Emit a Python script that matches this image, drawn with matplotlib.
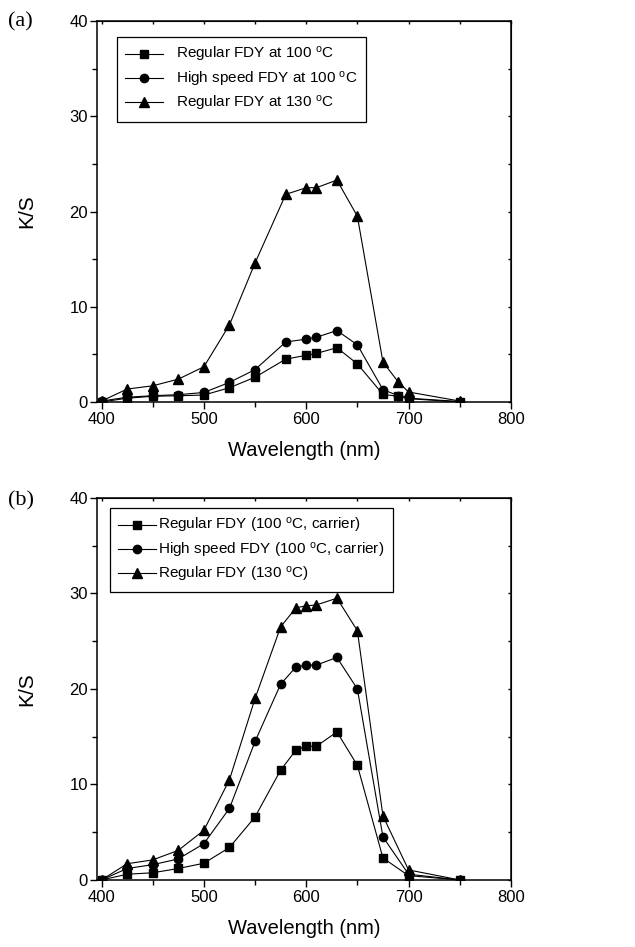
import matplotlib
matplotlib.use("Agg")
import matplotlib.pyplot as plt
from matplotlib.ticker import MultipleLocator

plt.rcParams['font.family'] = ['Liberation Sans', 'DejaVu Sans']
plt.rcParams['mathtext.fontset'] = 'custom'
plt.rcParams['mathtext.rm'] = 'Liberation Sans'
plt.rcParams['mathtext.it'] = 'Liberation Sans'

# ---- data ----
wl_a = [400, 425, 450, 475, 500, 525, 550, 580, 600, 610, 630, 650, 675, 690, 700, 750]
a_regular_100 = [0.0, 0.4, 0.6, 0.66, 0.73, 1.5, 2.6, 4.5, 4.9, 5.1, 5.7, 4.0, 0.8, 0.6, 0.35, 0.0]
a_highspeed_100 = [0.1, 0.5, 0.66, 0.77, 1.0, 2.06, 3.4, 6.3, 6.6, 6.8, 7.5, 6.0, 1.3, 0.66, 0.4, 0.05]
a_regular_130 = [0.1, 1.36, 1.7, 2.4, 3.7, 8.1, 14.6, 21.8, 22.5, 22.5, 23.3, 19.5, 4.2, 2.1, 1.05, 0.1]

wl_b = [400, 425, 450, 475, 500, 525, 550, 575, 590, 600, 610, 630, 650, 675, 700, 750]
b_regular_carrier = [0.0, 0.6, 0.75, 1.2, 1.75, 3.4, 6.6, 11.5, 13.6, 14.0, 14.0, 15.5, 12.0, 2.3, 0.45, 0.0]
b_highspeed_carrier = [0.0, 1.2, 1.6, 2.2, 3.8, 7.5, 14.5, 20.5, 22.3, 22.5, 22.5, 23.3, 20.0, 4.5, 0.6, 0.0]
b_regular_130 = [0.0, 1.7, 2.1, 3.1, 5.2, 10.5, 19.0, 26.5, 28.5, 28.7, 28.8, 29.5, 26.1, 6.7, 1.05, 0.0]

labels_a = [r"Regular FDY at 100 $^{\mathrm{o}}$C",
            r"High speed FDY at 100 $^{\mathrm{o}}$C",
            r"Regular FDY at 130 $^{\mathrm{o}}$C"]
labels_b = [r"Regular FDY (100 $^{\mathrm{o}}$C, carrier)",
            r"High speed FDY (100 $^{\mathrm{o}}$C, carrier)",
            r"Regular FDY (130 $^{\mathrm{o}}$C)"]

markers = ['s', 'o', '^']
msizes = [5.5, 6.0, 6.5]

fig = plt.figure(figsize=(6.35, 9.47), dpi=100)

def make_panel(rect, wl, series, labels, leg_anchor, panel_label, handlepad, label_dy):
    ax = fig.add_axes(rect)
    for y, lab, m, ms in zip(series, labels, markers, msizes):
        ax.plot(wl, y, color='black', lw=0.8, marker=m, ms=ms, label=lab)
    ax.set_xlim(396, 800)
    ax.set_ylim(0, 40)
    ax.xaxis.set_major_locator(MultipleLocator(100))
    ax.xaxis.set_minor_locator(MultipleLocator(50))
    ax.yaxis.set_major_locator(MultipleLocator(10))
    ax.yaxis.set_minor_locator(MultipleLocator(5))
    ax.tick_params(which='major', direction='out', length=5, width=1, labelsize=12, pad=2)
    ax.tick_params(which='minor', direction='out', length=3.5, width=1)
    for s in ax.spines.values():
        s.set_linewidth(1.1)
    # inward ticks on top and right
    sx = ax.secondary_xaxis('top')
    sx.xaxis.set_major_locator(MultipleLocator(50))
    sx.tick_params(direction='in', length=2.5, width=1, labeltop=False)
    sy = ax.secondary_yaxis('right')
    sy.yaxis.set_major_locator(MultipleLocator(5))
    sy.tick_params(direction='in', length=2.5, width=1, labelright=False)
    ax.set_xlabel("Wavelength (nm)", fontsize=14.5, labelpad=10)
    ax.set_ylabel("K/S", fontsize=15, labelpad=24)
    leg = ax.legend(loc='upper left', bbox_to_anchor=leg_anchor, borderaxespad=0,
                    fancybox=False, edgecolor='black', framealpha=1, fontsize=11,
                    handlelength=2.5, handletextpad=handlepad, labelspacing=0.35,
                    borderpad=0.55)
    leg.get_frame().set_linewidth(0.9)
    fig.text(0.012, rect[1] + rect[3] + label_dy, panel_label, fontsize=16,
             family='Liberation Serif', va='top', ha='left')
    return ax

make_panel([0.1535, 0.5755, 0.651, 0.4023], wl_a,
           [a_regular_100, a_highspeed_100, a_regular_130], labels_a,
           (0.047, 0.958), "(a)", 0.8, 0.009)
make_panel([0.1535, 0.0708, 0.651, 0.4034], wl_b,
           [b_regular_carrier, b_highspeed_carrier, b_regular_130], labels_b,
           (0.030, 0.974), "(b)", 0.1, 0.007)

fig.savefig("out.png", dpi=100)
